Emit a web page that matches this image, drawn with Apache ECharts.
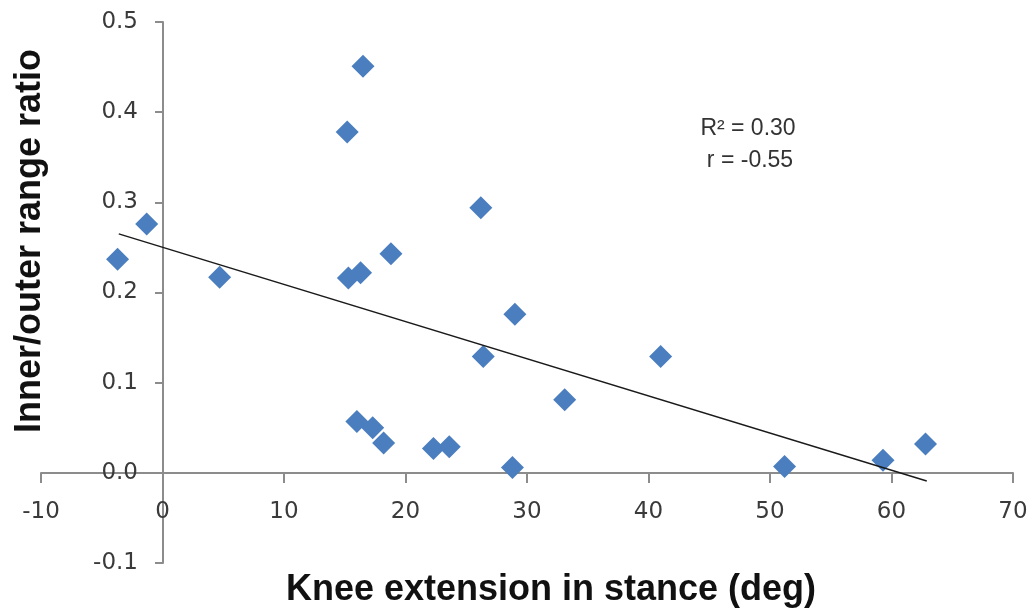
<!DOCTYPE html>
<html>
<head>
    <meta charset="utf-8">
    <title>Knee extension vs inner/outer range ratio</title>
    <script src="https://cdn.jsdelivr.net/npm/echarts@6.0.0/dist/echarts.min.js"></script>
    <style>
        html, body { margin: 0; padding: 0; background: #fff; }
        #chart { width: 1034px; height: 615px; }
    </style>
</head>
<body>
    <div id="chart"></div>
    <script>
        // 读图得到的数据点 (deg, ratio)
        const kneeExt = [-3.7, -1.3, 4.7, 15.2, 16.5, 15.3, 16.3, 18.8, 26.2, 16.0, 17.3, 18.2, 22.3, 23.6, 28.8, 26.4, 29.0, 33.1, 41.0, 51.2, 59.3, 62.8];
        const ratio   = [0.237, 0.276, 0.217, 0.378, 0.451, 0.216, 0.222, 0.243, 0.294, 0.057, 0.050, 0.033, 0.027, 0.029, 0.006, 0.129, 0.176, 0.081, 0.129, 0.007, 0.014, 0.032];

        // 趋势线两端
        const trendX = [-3.6, 62.9];
        const trendY = [0.265, -0.009];

        const statLines = ['R² = 0.30', 'r = -0.55'];

        const chart = echarts.init(document.getElementById('chart'));

        const axisGray = '#8c8c8c';
        // 绘图区: x -10..70 -> 41..1013, y -0.1..0.5 -> 563..22
        // 坐标轴放在 0 处, 用 offset 把轴(连同标签)移进去
        const xZeroOffset = -(563 - 473);
        const yZeroOffset = -(163 - 41);

        chart.setOption({
            animation: false,
            grid: { left: 41, right: 21, top: 22, bottom: 52, containLabel: false, outerBoundsMode: 'none' },
            xAxis: {
                type: 'value',
                min: -10, max: 70, interval: 10,
                offset: xZeroOffset,
                axisLine: { onZero: false, lineStyle: { color: axisGray, width: 2 } },
                axisTick: { show: true, length: 10, inside: false, lineStyle: { color: axisGray, width: 2 } },
                axisLabel: { margin: 28, color: '#3a3a3a', fontFamily: 'DejaVu Sans', fontSize: 23 },
                splitLine: { show: false }
            },
            yAxis: {
                type: 'value',
                min: -0.1, max: 0.5, interval: 0.1,
                offset: yZeroOffset,
                axisLine: { show: true, onZero: false, lineStyle: { color: axisGray, width: 2 } },
                axisTick: { show: true, length: 8, lineStyle: { color: axisGray, width: 2 } },
                axisLabel: {
                    margin: 25, color: '#3a3a3a', fontFamily: 'DejaVu Sans', fontSize: 23,
                    formatter: v => v.toFixed(1)
                },
                splitLine: { show: false }
            },
            graphic: [
                {
                    type: 'text', x: 551, y: 572,
                    style: { text: 'Knee extension in stance (deg)', align: 'center', verticalAlign: 'top',
                        font: 'bold 36px "Liberation Sans", Arial, sans-serif', fill: '#111' }
                },
                {
                    type: 'text', x: 12, y: 241, rotation: Math.PI / 2,
                    style: { text: 'Inner/outer range ratio', align: 'center', verticalAlign: 'top',
                        font: 'bold 36px "Liberation Sans", Arial, sans-serif', fill: '#111' }
                },
                {
                    type: 'text', x: 748, y: 117,
                    style: { text: statLines[0], align: 'center', verticalAlign: 'top',
                        font: '23px "Liberation Sans", Arial, sans-serif', fill: '#333' }
                },
                {
                    type: 'text', x: 750, y: 149,
                    style: { text: statLines[1], align: 'center', verticalAlign: 'top',
                        font: '23px "Liberation Sans", Arial, sans-serif', fill: '#333' }
                }
            ],
            series: [
                {
                    type: 'scatter',
                    symbol: 'diamond',
                    symbolSize: 23,
                    itemStyle: { color: '#4a7ebf', opacity: 1 },
                    data: kneeExt.map((x, i) => [x, ratio[i]]),
                    z: 3
                },
                {
                    type: 'line',
                    data: trendX.map((x, i) => [x, trendY[i]]),
                    symbol: 'none',
                    lineStyle: { color: '#1a1a1a', width: 1.5 },
                    z: 4
                }
            ]
        });
    </script>
</body>
</html>
